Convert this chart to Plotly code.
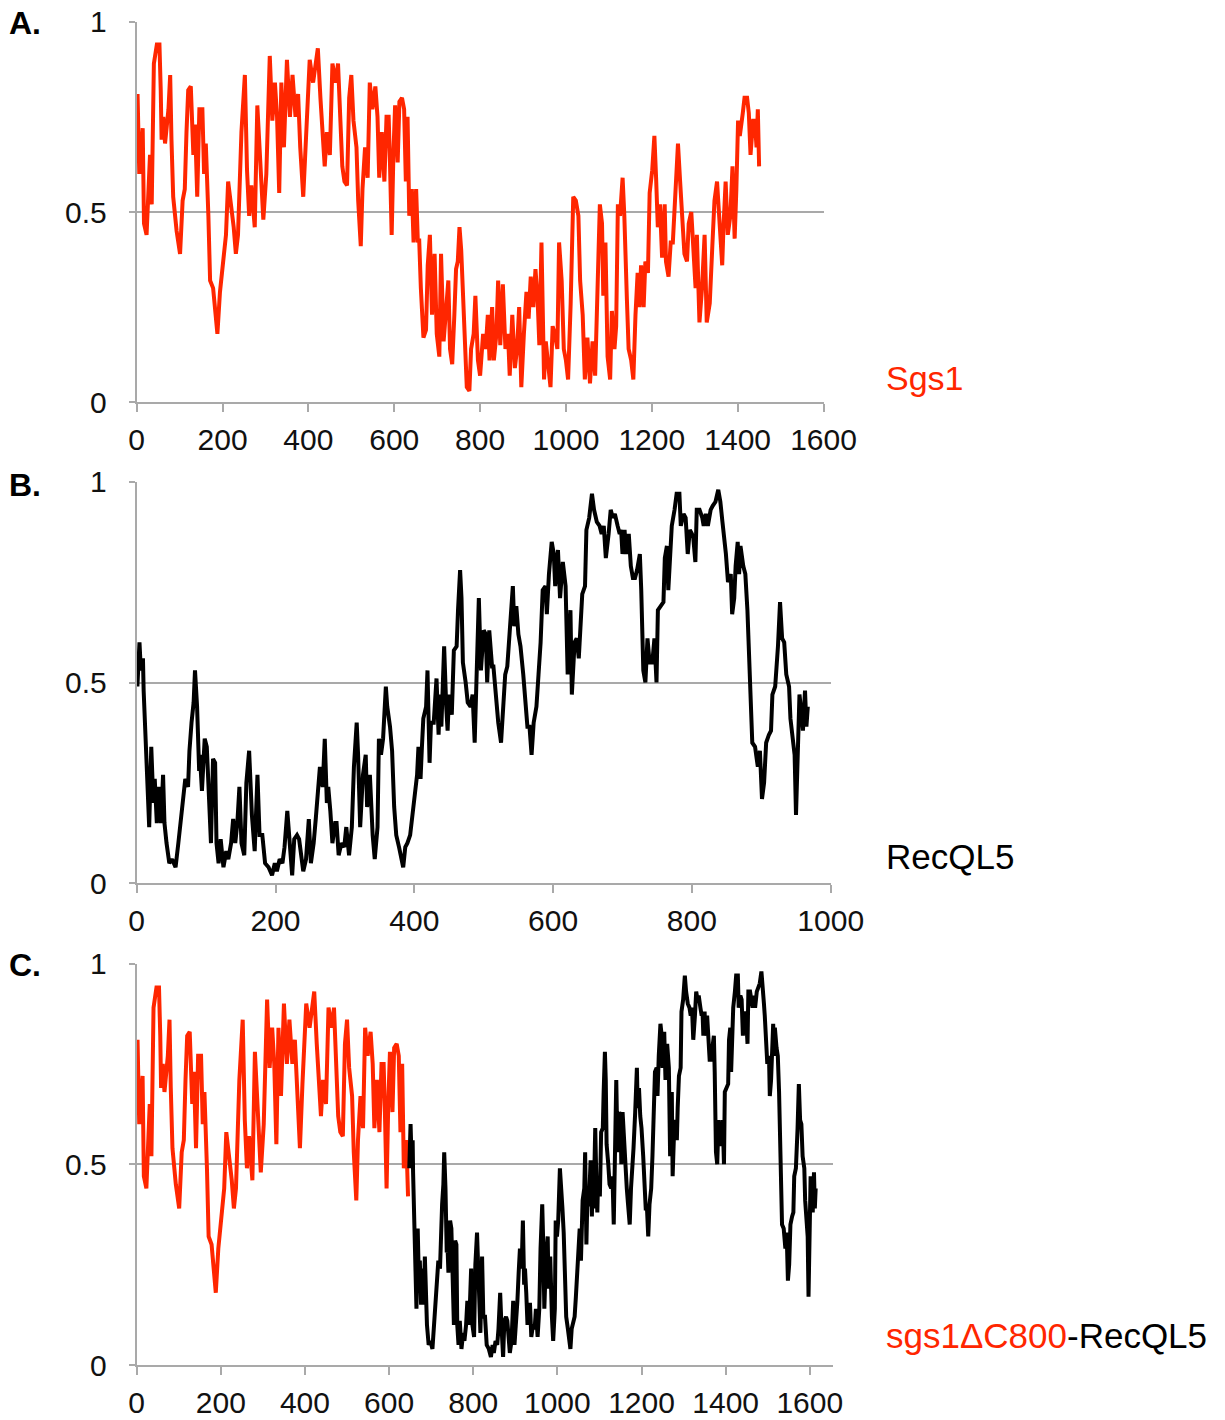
import plotly.graph_objects as go

# ---------------- data ----------------
sgs1_x = [2, 6, 14, 17, 23, 31, 35, 40, 47, 53,
          56, 58, 62, 66, 74, 78, 81, 85, 93, 101,
          107, 112, 116, 120, 126, 132, 136, 141, 146, 153,
          157, 161, 167, 171, 178, 188, 194, 202, 208, 213,
          221, 226, 231, 236, 244, 252, 257, 262, 267, 275,
          281, 287, 295, 302, 310, 316, 322, 327, 332, 337,
          343, 350, 357, 363, 370, 376, 381, 388, 394, 403,
          411, 417, 422, 428, 434, 438, 443, 450, 456, 464,
          469, 473, 479, 484, 490, 495, 500, 505, 512, 516,
          522,
          526, 532, 538, 543, 549, 556, 561, 565, 571, 577,
          582, 587, 590, 594, 598, 602, 608, 612, 618, 623,
          627, 631, 635, 641, 645, 651, 655, 658, 662, 668,
          674, 678, 683, 688, 694, 699, 705, 709, 715, 721,
          726, 730, 735, 740, 744, 748, 752, 756, 761, 766,
          769, 775, 779, 785, 789, 795, 800, 807, 813, 818,
          822, 828, 832, 838, 842, 847, 853, 859, 865, 869,
          875, 881, 886, 891, 896, 902, 908, 913, 918, 924,
          929, 934, 938, 943, 949, 953, 959, 964, 969, 974,
          980, 984, 990, 995, 1000, 1005, 1011, 1017, 1023, 1029,
          1033, 1039, 1044, 1050, 1056, 1062, 1068, 1072,
          1079, 1084, 1087, 1092, 1097, 1103, 1107, 1113, 1117, 1121,
          1126, 1132, 1136, 1142, 1146, 1152, 1157, 1162, 1167, 1171,
          1175, 1181, 1185, 1191, 1195, 1201, 1206, 1210, 1214, 1219,
          1224, 1230, 1233, 1239, 1244, 1249, 1255, 1261, 1266, 1271,
          1276, 1282, 1286, 1292, 1297, 1302, 1305, 1311, 1317, 1323,
          1328, 1335, 1341, 1346, 1352, 1358, 1364, 1367, 1372, 1377,
          1383, 1388, 1393, 1397, 1401, 1405, 1409, 1412, 1416, 1422,
          1426, 1430, 1436, 1440, 1444, 1447, 1450]
sgs1_y = [0.81, 0.60, 0.72, 0.47, 0.44, 0.65, 0.52, 0.89, 0.94, 0.94,
          0.82, 0.69, 0.75, 0.68, 0.77, 0.86, 0.69, 0.54, 0.45, 0.39,
          0.53, 0.56, 0.71, 0.82, 0.83, 0.65, 0.73, 0.54, 0.77, 0.77,
          0.60, 0.68, 0.49, 0.32, 0.30, 0.18, 0.29, 0.39, 0.44, 0.58,
          0.51, 0.46, 0.39, 0.44, 0.71, 0.86, 0.61, 0.49, 0.57, 0.46,
          0.78, 0.65, 0.48, 0.60, 0.91, 0.74, 0.84, 0.75, 0.55, 0.84,
          0.67, 0.90, 0.75, 0.86, 0.75, 0.81, 0.67, 0.54, 0.70, 0.90,
          0.84, 0.90, 0.93, 0.80, 0.67, 0.62, 0.71, 0.65, 0.89, 0.84,
          0.89, 0.75, 0.62, 0.58, 0.57, 0.80, 0.86, 0.74, 0.67, 0.53,
          0.41,
          0.56, 0.67, 0.59, 0.84, 0.77, 0.83, 0.75, 0.59, 0.71, 0.58,
          0.75, 0.75, 0.63, 0.44, 0.65, 0.78, 0.63, 0.79, 0.80, 0.77,
          0.58, 0.75, 0.49, 0.56, 0.42, 0.56, 0.42, 0.43, 0.30, 0.17,
          0.19, 0.36, 0.44, 0.23, 0.39, 0.18, 0.12, 0.39, 0.16, 0.25,
          0.32, 0.14, 0.10, 0.23, 0.35, 0.37, 0.46, 0.40, 0.26, 0.18,
          0.04, 0.03, 0.14, 0.18, 0.28, 0.11, 0.07, 0.18, 0.14, 0.23,
          0.11, 0.25, 0.11, 0.18, 0.32, 0.15, 0.31, 0.14, 0.18, 0.07,
          0.23, 0.09, 0.14, 0.25, 0.04, 0.18, 0.29, 0.22, 0.33, 0.25,
          0.35, 0.27, 0.15, 0.42, 0.06, 0.16, 0.09, 0.04, 0.20, 0.18,
          0.14, 0.42, 0.32, 0.14, 0.11, 0.06, 0.26, 0.54, 0.53, 0.49,
          0.32, 0.23, 0.06, 0.17, 0.05, 0.16, 0.07, 0.27,
          0.52, 0.47, 0.28, 0.42, 0.12, 0.06, 0.24, 0.14, 0.20, 0.52,
          0.49, 0.59, 0.49, 0.27, 0.14, 0.11, 0.06, 0.23, 0.34, 0.25,
          0.36, 0.25, 0.37, 0.34, 0.55, 0.61, 0.70, 0.59, 0.46, 0.52,
          0.38, 0.52, 0.37, 0.33, 0.42, 0.42, 0.54, 0.68, 0.58, 0.49,
          0.39, 0.37, 0.47, 0.50, 0.37, 0.30, 0.44, 0.21, 0.30, 0.44,
          0.21, 0.26, 0.41, 0.53, 0.58, 0.47, 0.36, 0.46, 0.58, 0.44,
          0.49, 0.62, 0.43, 0.56, 0.74, 0.70, 0.75, 0.76, 0.80, 0.80,
          0.76, 0.65, 0.74, 0.74, 0.67, 0.77, 0.62]

recql5_x = [1, 4, 6, 9, 10, 13, 15, 18, 21, 24,
            26, 29, 32, 35, 38, 40, 43, 47, 51, 56,
            60, 63, 67, 70, 74, 76, 79, 82, 84, 87,
            90, 91, 94, 98, 101, 104, 107, 110, 113, 115,
            118, 121, 125, 129, 132, 136, 139, 142, 145, 148,
            151, 155, 158, 162, 166, 170, 174, 177, 181, 185,
            190, 195, 199, 202, 206, 210, 213, 217, 220, 224,
            227, 231, 234, 237, 240, 244, 248, 251, 255, 258,
            261, 264, 268, 271, 274, 276, 279, 282, 286, 288,
            291, 295, 299, 302, 306, 310, 313, 317, 319, 322,
            326, 330, 332,
            336, 340, 343, 347, 349, 352, 355, 359, 361, 365,
            368, 371, 374, 378, 381, 384, 387, 390, 394, 397,
            400, 404, 406, 409, 411, 413, 417, 419, 422, 424,
            428, 430, 432, 435, 437, 439, 443, 446, 448, 450,
            454, 457, 461, 463, 466, 468, 470, 474, 477, 481,
            484, 487, 490, 493, 496, 500, 503, 505, 508, 512,
            514, 518, 521, 525, 528, 531, 534, 538, 542, 544,
            547, 550, 553, 557, 561, 563, 566, 569, 572, 576,
            579, 582, 585, 589, 591, 594, 598, 601, 603, 607,
            610, 614, 618, 621, 625, 627, 631, 634, 637, 639,
            642, 646, 648, 652, 656, 659, 663,
            667, 670, 673, 676, 680, 683, 686, 689, 693, 696,
            698, 700, 703, 705, 709, 712, 715, 718, 721, 725,
            727, 730, 733, 736, 739, 743, 746, 749, 751, 755,
            759, 761, 764, 766, 768, 771, 775, 778, 782, 784,
            788, 791, 794, 797, 800, 802, 805, 807, 811, 815,
            817, 820, 823, 827, 830, 834, 838, 841, 844, 846,
            849, 852, 856, 858, 861, 863, 866, 868, 870, 874,
            877, 880, 883, 885, 887, 891, 895, 898, 901, 904,
            907, 911, 914, 916, 920, 924, 927, 930, 933, 936,
            940, 942, 945, 948, 950, 953, 955, 958, 960, 963,
            965, 967]
recql5_y = [0.49, 0.60, 0.53, 0.56, 0.48, 0.35, 0.24, 0.14, 0.34, 0.20,
            0.26, 0.15, 0.24, 0.15, 0.27, 0.15, 0.10, 0.05, 0.06, 0.04,
            0.10, 0.15, 0.23, 0.26, 0.24, 0.33, 0.40, 0.45, 0.53, 0.44,
            0.28, 0.32, 0.23, 0.36, 0.34, 0.23, 0.10, 0.31, 0.30, 0.10,
            0.05, 0.11, 0.04, 0.08, 0.06, 0.10, 0.16, 0.10, 0.15, 0.24,
            0.10, 0.07, 0.25, 0.33, 0.17, 0.08, 0.27, 0.12, 0.12, 0.05,
            0.04, 0.02, 0.05, 0.03, 0.06, 0.05, 0.09, 0.18, 0.10, 0.02,
            0.11, 0.12, 0.11, 0.06, 0.03, 0.06, 0.16, 0.05, 0.10, 0.16,
            0.23, 0.29, 0.24, 0.36, 0.20, 0.24, 0.18, 0.10, 0.15, 0.15,
            0.07, 0.10, 0.09, 0.14, 0.07, 0.14, 0.29, 0.40, 0.32, 0.14,
            0.27, 0.32, 0.19,
            0.27, 0.12, 0.06, 0.14, 0.36, 0.32, 0.36, 0.49, 0.44, 0.39,
            0.33, 0.19, 0.12, 0.09, 0.07, 0.04, 0.09, 0.10, 0.12, 0.17,
            0.22, 0.27, 0.34, 0.26, 0.34, 0.41, 0.44, 0.53, 0.30, 0.40,
            0.40, 0.45, 0.51, 0.37, 0.47, 0.39, 0.59, 0.44, 0.38, 0.47,
            0.42, 0.58, 0.59, 0.68, 0.78, 0.71, 0.55, 0.50, 0.45, 0.44,
            0.47, 0.35, 0.52, 0.71, 0.53, 0.63, 0.62, 0.50, 0.63, 0.54,
            0.54, 0.44, 0.40, 0.35, 0.44, 0.52, 0.54, 0.63, 0.74, 0.64,
            0.69, 0.62, 0.59, 0.52, 0.44, 0.39, 0.39, 0.32, 0.40, 0.44,
            0.52, 0.60, 0.73, 0.74, 0.67, 0.77, 0.85, 0.82, 0.74, 0.83,
            0.71, 0.80, 0.74, 0.52, 0.68, 0.47, 0.60, 0.61, 0.56, 0.64,
            0.72, 0.74, 0.88, 0.91, 0.97, 0.93, 0.90,
            0.89, 0.87, 0.89, 0.81, 0.87, 0.93, 0.91, 0.92, 0.89, 0.87,
            0.88, 0.82, 0.88, 0.82, 0.87, 0.79, 0.76, 0.76, 0.78, 0.82,
            0.73, 0.53, 0.50, 0.61, 0.55, 0.55, 0.61, 0.50, 0.68, 0.69,
            0.70, 0.81, 0.84, 0.73, 0.82, 0.89, 0.93, 0.97, 0.97, 0.89,
            0.92, 0.91, 0.82, 0.88, 0.87, 0.86, 0.80, 0.93, 0.93, 0.91,
            0.89, 0.92, 0.89, 0.93, 0.94, 0.95, 0.98, 0.95, 0.90, 0.87,
            0.82, 0.75, 0.77, 0.67, 0.71, 0.79, 0.85, 0.77, 0.84, 0.79,
            0.77, 0.68, 0.55, 0.45, 0.35, 0.34, 0.29, 0.33, 0.21, 0.25,
            0.35, 0.37, 0.38, 0.47, 0.49, 0.59, 0.70, 0.61, 0.60, 0.52,
            0.49, 0.41, 0.37, 0.32, 0.17, 0.31, 0.47, 0.42, 0.38, 0.48,
            0.39, 0.44]

fusion_junction = 647          # sgs1 residues kept in sgs1ΔC800
x_ticks_long = [0, 200, 400, 600, 800, 1000, 1200, 1400, 1600]
x_ticks_short = [0, 200, 400, 600, 800, 1000]
y_ticks = [0, 0.5, 1]
y_tick_text = ["0", "0.5", "1"]

# fusion construct: Sgs1 N-terminus (red) + RecQL5 (black) shifted
fus_red_x = [x for x in sgs1_x if x <= fusion_junction]
fus_red_y = sgs1_y[:len(fus_red_x)]
fus_blk_x = [x + fusion_junction for x in recql5_x]
fus_blk_y = recql5_y

# ---------------- style ----------------
RED = "rgb(255,38,0)"
GRID = "#a9a9a9"
W, H = 1225, 1420
TICKFONT = dict(family="Liberation Sans Narrow, Arial Narrow, Liberation Sans, Arial",
                size=30, color="#111111")
LABFONT = "Liberation Sans, Arial, sans-serif"
LW = 4


def px_x(p):
    return p / W


def px_y(p):
    return 1 - p / H


fig = go.Figure()
fig.add_trace(go.Scatter(x=sgs1_x, y=sgs1_y, mode="lines",
                         line=dict(color=RED, width=LW), xaxis="x", yaxis="y"))
fig.add_trace(go.Scatter(x=recql5_x, y=recql5_y, mode="lines",
                         line=dict(color="black", width=LW), xaxis="x2", yaxis="y2"))
fig.add_trace(go.Scatter(x=fus_red_x, y=fus_red_y, mode="lines",
                         line=dict(color=RED, width=LW), xaxis="x3", yaxis="y3"))
fig.add_trace(go.Scatter(x=fus_blk_x, y=fus_blk_y, mode="lines",
                         line=dict(color="black", width=LW), xaxis="x3", yaxis="y3"))

panels = [
    # (x left px, x right px, y top px, y bottom px, x range, x ticks)
    (136.7, 823.5, 21.7, 402.3, [0, 1600], x_ticks_long),
    (136.7, 830.7, 481.7, 883.3, [0, 1000], x_ticks_short),
    (136.7, 832.5, 963.5, 1365.0, [0, 1654], x_ticks_long),
]

layout = dict(width=W, height=H, margin=dict(l=0, r=0, t=0, b=0, autoexpand=False),
              paper_bgcolor="white", plot_bgcolor="white", showlegend=False)
for i, (xl, xr, yt, yb, xr_range, xt) in enumerate(panels):
    s = "" if i == 0 else str(i + 1)
    layout["xaxis" + s] = dict(domain=[px_x(xl), px_x(xr)], range=xr_range,
                               anchor="y" + s, tickvals=xt,
                               ticktext=[str(v) for v in xt],
                               showline=True, linecolor=GRID, linewidth=2,
                               ticks="outside", ticklen=8, tickwidth=2, tickcolor=GRID,
                               showgrid=False, zeroline=False, automargin=False,
                               ticklabeloverflow="allow",
                               tickfont=TICKFONT, ticklabelstandoff=2)
    layout["yaxis" + s] = dict(domain=[px_y(yb), px_y(yt)], range=[0, 1],
                               anchor="x" + s, tickvals=y_ticks, ticktext=y_tick_text,
                               showline=True, linecolor=GRID, linewidth=2,
                               ticks="outside", ticklen=6, tickwidth=2, tickcolor=GRID,
                               showgrid=True, gridcolor=GRID, gridwidth=2,
                               zeroline=False, tickfont=TICKFONT, automargin=False,
                               ticklabeloverflow="allow",
                               ticklabelstandoff=16)
fig.update_layout(**layout)

annotations = []
for letter, ypx in [("A.", 23), ("B.", 485), ("C.", 965)]:
    annotations.append(dict(text="<b>" + letter + "</b>", x=px_x(7), y=px_y(ypx),
                            xref="paper", yref="paper", xanchor="left", yanchor="middle",
                            showarrow=False, font=dict(family=LABFONT, size=32, color="black")))
annotations.append(dict(text="Sgs1", x=px_x(884), y=px_y(378), xref="paper", yref="paper",
                        xanchor="left", yanchor="middle", showarrow=False,
                        font=dict(family=LABFONT, size=34, color=RED)))
annotations.append(dict(text="RecQL5", x=px_x(884), y=px_y(856), xref="paper", yref="paper",
                        xanchor="left", yanchor="middle", showarrow=False,
                        font=dict(family=LABFONT, size=35, color="black")))
annotations.append(dict(text="<span style='color:" + RED + "'>sgs1ΔC800</span>-RecQL5",
                        x=px_x(884), y=px_y(1335), xref="paper", yref="paper",
                        xanchor="left", yanchor="middle", showarrow=False,
                        font=dict(family=LABFONT, size=35, color="black")))
fig.update_layout(annotations=annotations)

# remove the default page margin so the figure sits at the window's corner
fig.write_html("out.html", config={"displayModeBar": False},
               post_script="document.body.style.margin='0px';")
